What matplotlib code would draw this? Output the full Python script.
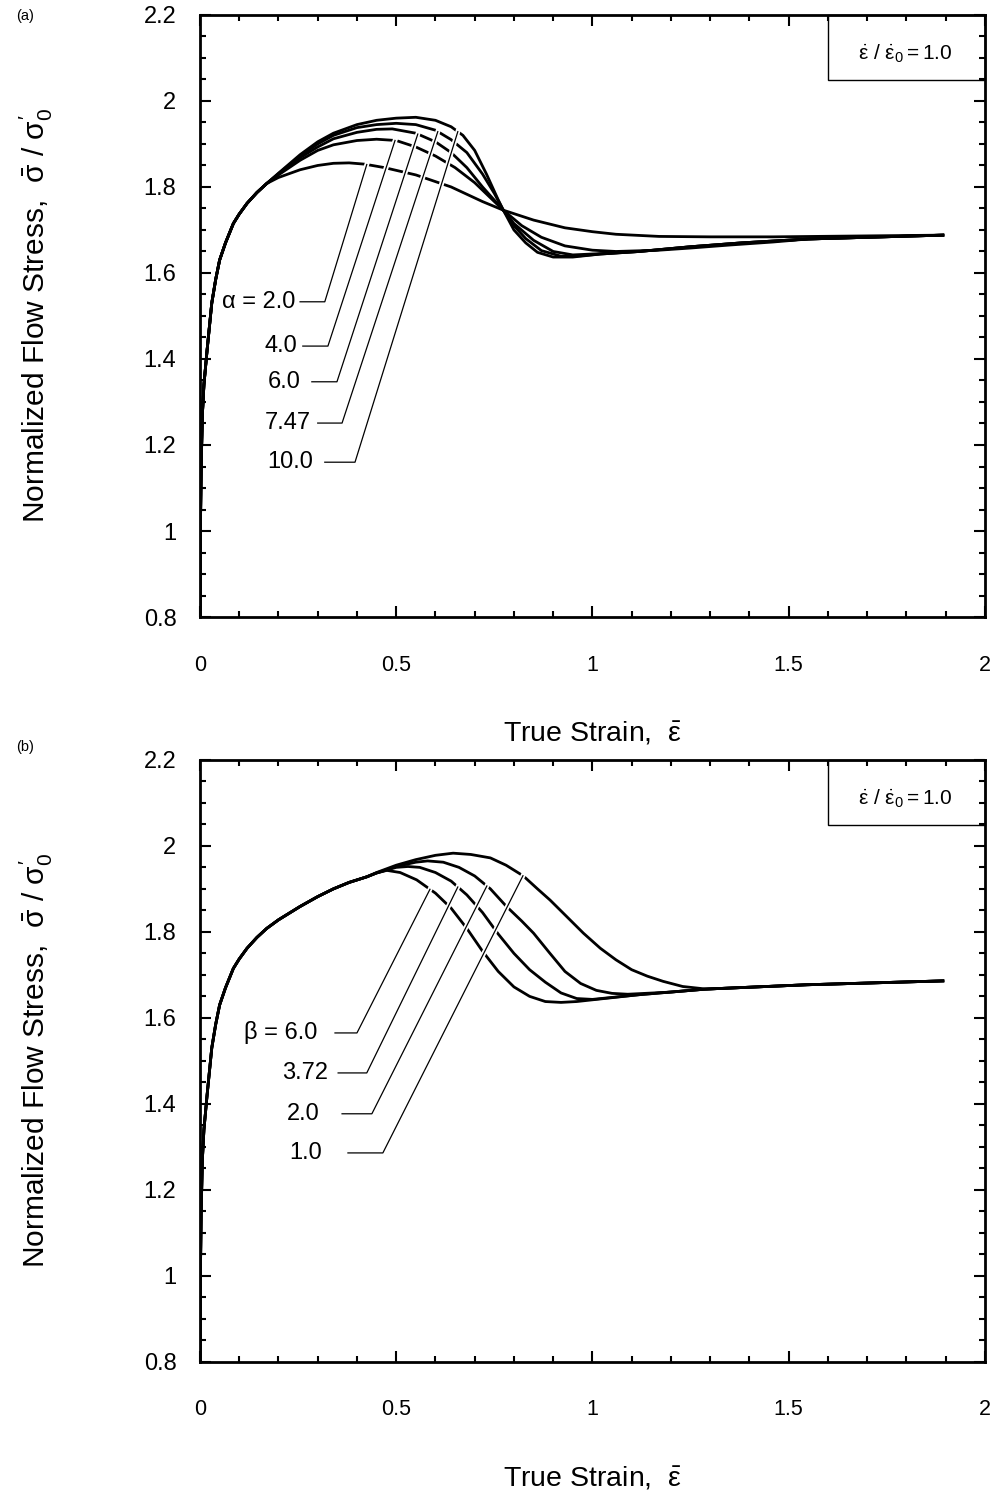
import matplotlib
matplotlib.use("Agg")
import matplotlib.pyplot as plt
import matplotlib.patheffects as pe
from matplotlib.ticker import MultipleLocator
from matplotlib.patches import Rectangle
import numpy as np

plt.rcParams['font.family'] = ['Liberation Sans', 'DejaVu Sans']
plt.rcParams['mathtext.fontset'] = 'custom'
plt.rcParams['mathtext.rm'] = 'Liberation Sans'
plt.rcParams['mathtext.it'] = 'Liberation Sans'

# shared initial hardening part (both panels)
rise_x = [0.0, 0.001, 0.003, 0.006, 0.01, 0.018, 0.03, 0.04, 0.05, 0.065, 0.085, 0.1, 0.12, 0.145, 0.17]
rise_y = [0.80, 1.00, 1.15, 1.27, 1.34, 1.42, 1.53, 1.585, 1.63, 1.67, 1.715, 1.737, 1.762, 1.787, 1.808]

# (a) alpha curves
alpha_labels = ['α = 2.0', '4.0', '6.0', '7.47', '10.0']
a2_x = [0.2, 0.255, 0.3, 0.34, 0.38, 0.42, 0.47, 0.55, 0.64, 0.72, 0.773, 0.85, 0.93, 1.0, 1.06, 1.17, 1.3, 1.46, 1.893]
a2_y = [1.822, 1.840, 1.850, 1.855, 1.856, 1.853, 1.845, 1.828, 1.800, 1.766, 1.746, 1.723, 1.705, 1.696, 1.690, 1.685, 1.684, 1.684, 1.688]
a4_x = [0.2, 0.255, 0.3, 0.34, 0.4, 0.45, 0.5, 0.55, 0.6, 0.65, 0.7, 0.773, 0.82, 0.87, 0.93, 1.0, 1.06, 1.17, 1.25, 1.35, 1.46, 1.55, 1.893]
a4_y = [1.828, 1.862, 1.885, 1.898, 1.908, 1.911, 1.908, 1.893, 1.872, 1.845, 1.810, 1.746, 1.710, 1.683, 1.663, 1.653, 1.650, 1.653, 1.658, 1.665, 1.672, 1.679, 1.688]
a6_x = [0.2, 0.255, 0.3, 0.34, 0.4, 0.45, 0.49, 0.55, 0.6, 0.64, 0.68, 0.72, 0.773, 0.8, 0.85, 0.9, 0.95, 1.02, 1.12, 1.25, 1.38, 1.55, 1.893]
a6_y = [1.830, 1.868, 1.893, 1.912, 1.927, 1.934, 1.935, 1.925, 1.905, 1.880, 1.845, 1.800, 1.746, 1.715, 1.676, 1.650, 1.642, 1.645, 1.650, 1.661, 1.670, 1.679, 1.688]
a7_x = [0.2, 0.255, 0.3, 0.34, 0.4, 0.45, 0.5, 0.55, 0.6, 0.64, 0.68, 0.72, 0.75, 0.773, 0.8, 0.83, 0.87, 0.92, 0.97, 1.02, 1.12, 1.25, 1.38, 1.55, 1.893]
a7_y = [1.831, 1.872, 1.900, 1.920, 1.938, 1.945, 1.948, 1.945, 1.932, 1.910, 1.880, 1.830, 1.785, 1.746, 1.710, 1.680, 1.652, 1.639, 1.640, 1.644, 1.650, 1.661, 1.670, 1.679, 1.688]
a10_x = [0.2, 0.255, 0.3, 0.34, 0.4, 0.45, 0.5, 0.55, 0.6, 0.64, 0.67, 0.7, 0.73, 0.76, 0.773, 0.8, 0.83, 0.86, 0.9, 0.95, 1.02, 1.12, 1.25, 1.38, 1.55, 1.893]
a10_y = [1.832, 1.875, 1.905, 1.925, 1.945, 1.955, 1.960, 1.962, 1.955, 1.940, 1.920, 1.885, 1.830, 1.770, 1.746, 1.700, 1.670, 1.648, 1.637, 1.637, 1.644, 1.650, 1.661, 1.670, 1.679, 1.688]

# (b) beta curves
beta_labels = ['β = 6.0', '3.72', '2.0', '1.0']
b6_x = [0.2, 0.255, 0.3, 0.34, 0.38, 0.425, 0.45, 0.476, 0.51, 0.552, 0.6, 0.64, 0.68, 0.72, 0.76, 0.8, 0.84, 0.88, 0.92, 0.96, 1.0, 1.12, 1.29, 1.546, 1.893]
b6_y = [1.828, 1.859, 1.882, 1.900, 1.915, 1.928, 1.937, 1.943, 1.938, 1.921, 1.890, 1.855, 1.808, 1.755, 1.708, 1.672, 1.650, 1.638, 1.636, 1.638, 1.642, 1.654, 1.667, 1.677, 1.686]
b3_x = [0.2, 0.255, 0.3, 0.34, 0.38, 0.425, 0.45, 0.5, 0.53, 0.56, 0.6, 0.64, 0.68, 0.72, 0.76, 0.8, 0.84, 0.88, 0.92, 0.96, 1.0, 1.12, 1.29, 1.546, 1.893]
b3_y = [1.828, 1.859, 1.882, 1.900, 1.915, 1.928, 1.937, 1.950, 1.952, 1.950, 1.938, 1.918, 1.886, 1.845, 1.795, 1.750, 1.712, 1.683, 1.658, 1.645, 1.643, 1.654, 1.667, 1.677, 1.686]
b2_x = [0.2, 0.255, 0.3, 0.34, 0.38, 0.425, 0.45, 0.5, 0.55, 0.58, 0.62, 0.66, 0.7, 0.74, 0.78, 0.82, 0.85, 0.89, 0.93, 0.97, 1.01, 1.05, 1.09, 1.2, 1.29, 1.546, 1.893]
b2_y = [1.828, 1.859, 1.882, 1.900, 1.915, 1.928, 1.937, 1.952, 1.962, 1.965, 1.962, 1.950, 1.930, 1.900, 1.860, 1.825, 1.797, 1.752, 1.708, 1.680, 1.664, 1.657, 1.655, 1.660, 1.667, 1.677, 1.686]
b1_x = [0.2, 0.255, 0.3, 0.34, 0.38, 0.425, 0.45, 0.5, 0.55, 0.6, 0.645, 0.69, 0.74, 0.78, 0.824, 0.86, 0.892, 0.934, 0.977, 1.02, 1.06, 1.1, 1.14, 1.18, 1.23, 1.29, 1.546, 1.893]
b1_y = [1.828, 1.859, 1.882, 1.900, 1.915, 1.928, 1.938, 1.955, 1.968, 1.978, 1.983, 1.980, 1.972, 1.955, 1.930, 1.900, 1.874, 1.836, 1.797, 1.762, 1.735, 1.712, 1.697, 1.685, 1.673, 1.667, 1.677, 1.686]

# label anchors: text right x, y ; leader start x, bend x, end x on curve
a_text = [(0.243, 1.533), (0.248, 1.430), (0.256, 1.347), (0.282, 1.251), (0.289, 1.160)]
a_lead = [(0.255, 0.318, 0.425), (0.262, 0.326, 0.497), (0.285, 0.349, 0.555), (0.300, 0.362, 0.606), (0.318, 0.395, 0.657)]
b_text = [(0.298, 1.565), (0.327, 1.472), (0.306, 1.377), (0.311, 1.286)]
b_lead = [(0.344, 0.400, 0.586), (0.352, 0.425, 0.657), (0.362, 0.438, 0.731), (0.377, 0.466, 0.823)]


def full(x, y):
    return rise_x + x, rise_y + y


def style_axes(ax):
    ax.set_xlim(0, 2)
    ax.set_ylim(0.8, 2.2)
    ax.xaxis.set_major_locator(MultipleLocator(0.5))
    ax.xaxis.set_minor_locator(MultipleLocator(0.1))
    ax.yaxis.set_major_locator(MultipleLocator(0.2))
    ax.yaxis.set_minor_locator(MultipleLocator(0.05))
    ax.xaxis.set_major_formatter(plt.FuncFormatter(lambda v, p: f'{v:g}'))
    ax.yaxis.set_major_formatter(plt.FuncFormatter(lambda v, p: f'{v:g}'))
    ax.tick_params(which='both', direction='in', top=True, right=True, width=1.5)
    ax.tick_params(which='major', length=8)
    ax.tick_params(which='minor', length=4)
    ax.tick_params(axis='x', which='major', pad=27, labelsize=15.5)
    ax.tick_params(axis='y', which='major', pad=17, labelsize=17)
    for s in ax.spines.values():
        s.set_linewidth(2)
    ax.set_xlabel(r'True Strain,  $\bar{\varepsilon}$', fontsize=20.5, labelpad=32)
    ax.set_ylabel(r'Normalized Flow Stress,  $\bar{\sigma}\ /\ \sigma_0^{\prime}$', fontsize=21.5, labelpad=64)
    ax.add_patch(Rectangle((0.80, 0.892), 0.2, 0.108, transform=ax.transAxes,
                           fill=False, lw=1, ec='black', clip_on=False))
    ax.text(0.898, 0.935, r'$\dot{\varepsilon}\ /\ \dot{\varepsilon}_0 = 1.0$', transform=ax.transAxes,
            ha='center', va='center', fontsize=15)


def labels(ax, curves, texts, leads, names):
    halo = [pe.Stroke(linewidth=3.5, foreground='white'), pe.Normal()]
    for (cx, cy), (tx, ty), (x0, x1, xe), name in zip(curves, texts, leads, names):
        ye = np.interp(xe, cx, cy)
        ax.plot([x0, x1, xe], [ty, ty, ye], color='black', lw=0.9, path_effects=halo, zorder=3)
        ax.text(tx, ty, name, ha='right', va='center', fontsize=17)


fig = plt.figure(figsize=(9.96, 14.94), dpi=100)
ax1 = fig.add_axes([0.2008, 0.587, 0.788, 0.403])
ax2 = fig.add_axes([0.2008, 0.0884, 0.788, 0.403])

a_curves = [full(a2_x, a2_y), full(a4_x, a4_y), full(a6_x, a6_y), full(a7_x, a7_y), full(a10_x, a10_y)]
for cx, cy in a_curves:
    ax1.plot(cx, cy, color='black', lw=2, zorder=2, solid_joinstyle='round')
labels(ax1, a_curves, a_text, a_lead, alpha_labels)
style_axes(ax1)

b_curves = [full(b6_x, b6_y), full(b3_x, b3_y), full(b2_x, b2_y), full(b1_x, b1_y)]
for cx, cy in b_curves:
    ax2.plot(cx, cy, color='black', lw=2, zorder=2, solid_joinstyle='round')
labels(ax2, b_curves, b_text, b_lead, beta_labels)
style_axes(ax2)

fig.text(0.016, 0.989, '(a)', fontsize=10.5, va='center')
fig.text(0.016, 0.500, '(b)', fontsize=10.5, va='center')

fig.savefig('out.png', dpi=100)
